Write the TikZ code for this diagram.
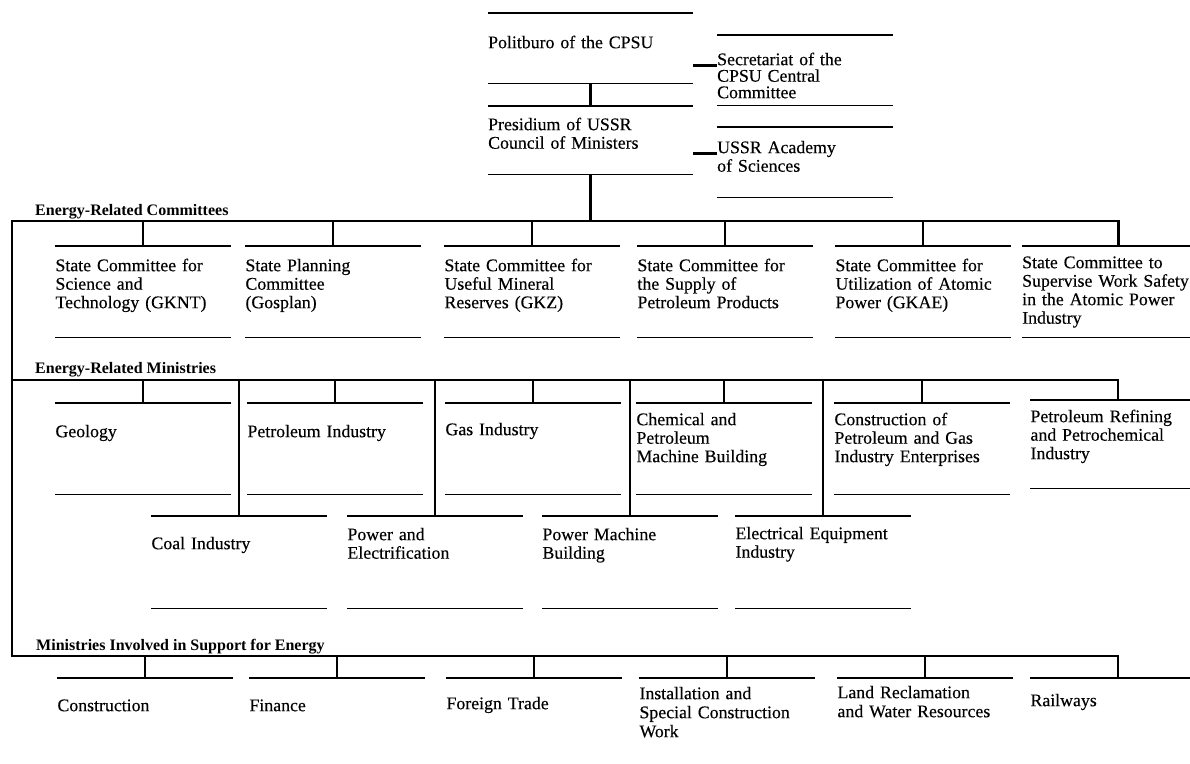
\documentclass[tikz,border=0pt]{standalone}
\usepackage{fontspec}
\setmainfont{Liberation Serif}[UprightFeatures={FakeBold=0.3}]
\usetikzlibrary{calc}

\tikzset{
  rule/.style={line width=1.3pt},
  link/.style={line width=2.6pt},
  tier/.style={anchor=base west, inner sep=0pt, font=\bfseries\fontsize{16}{18}\selectfont},
  unit/.style 2 args={anchor=north, text width=175pt, align=left,
    inner xsep=0pt, inner ysep=0pt, text height=#1, text depth=#2,
    font=\fontsize{17.8}{18.5}\selectfont,
    append after command={(\tikzlastnode.north west) edge[rule] (\tikzlastnode.north east)
      (\tikzlastnode.south west) edge[rule] (\tikzlastnode.south east)}},
  openunit/.style={anchor=north, text width=175pt, align=left,
    inner xsep=0pt, inner ysep=0pt, text height=#1, text depth=40pt,
    font=\fontsize{17.8}{19}\selectfont,
    append after command={(\tikzlastnode.north west) edge[rule] (\tikzlastnode.north east)}}
}

\begin{document}
\begin{tikzpicture}[x=1pt, y=-1pt]
\useasboundingbox (0,0) rectangle (1190,763);

% party and government
\node[unit={35pt}{35pt}, text width=205pt, anchor=north west] (pb) at (488,13) {Politburo of the CPSU};
\node[unit={24pt}{44pt}, text width=205pt, anchor=north west] (pr) at (488,106) {Presidium of USSR\\Council of Ministers};
\node[unit={30pt}{40pt}, text width=176pt, anchor=north west, font=\fontsize{17.8}{16.5}\selectfont] (sc) at (717,35) {Secretariat of the\\CPSU Central\\Committee};
\node[unit={26pt}{44pt}, text width=176pt, anchor=north west] (ac) at (717,127) {USSR Academy\\of Sciences};
\draw[link] (pb.east |- sc.base) -- (sc.base west);
\draw[link] (pb.east |- ac.base) -- (ac.base west);
\draw[link] (pb.south) -- (pr.north);

% section labels
\node[tier] (lc) at (35,215) {Energy-Related Committees};
\node[tier] (lm) at (35,373) {Energy-Related Ministries};
\node[tier] (ls) at (36,650) {Ministries Involved in Support for Energy};

% committees
\node[unit={25pt}{66pt}] (c1) at (143,246) {State Committee for\\Science and\\Technology (GKNT)};
\node[unit={25pt}{66pt}] (c2) at (333,246) {State Planning\\Committee\\(Gosplan)};
\node[unit={25pt}{66pt}] (c3) at (532,246) {State Committee for\\Useful Mineral\\Reserves (GKZ)};
\node[unit={25pt}{66pt}] (c4) at (725,246) {State Committee for\\the Supply of\\Petroleum Products};
\node[unit={25pt}{66pt}] (c5) at (923,246) {State Committee for\\Utilization of Atomic\\Power (GKAE)};
\node[unit={22pt}{69pt}, text width=192pt, anchor=north west] (c6) at (1022,246) {State Committee to\\Supervise Work Safety\\in the Atomic Power\\Industry};

% ministries
\node[unit={34pt}{57pt}] (m1) at (143,403) {Geology};
\node[unit={34pt}{57pt}] (m2) at (335,403) {Petroleum Industry};
\node[unit={32pt}{59pt}] (m3) at (533,403) {Gas Industry};
\node[unit={22pt}{69pt}] (m4) at (724,403) {Chemical and\\Petroleum\\Machine Building};
\node[unit={22pt}{69pt}] (m5) at (922,403) {Construction of\\Petroleum and Gas\\Industry Enterprises};
\node[unit={22pt}{66pt}] (m6) at (1118,400) {Petroleum Refining\\and Petrochemical\\Industry};
\node[unit={33pt}{59pt}] (m7) at (239,516) {Coal Industry};
\node[unit={24pt}{68pt}] (m8) at (435,516) {Power and\\Electrification};
\node[unit={24pt}{68pt}] (m9) at (630,516) {Power Machine\\Building};
\node[unit={23pt}{69pt}] (m10) at (823,516) {Electrical Equipment\\Industry};

% support
\node[openunit=33pt] (s1) at (145,678) {Construction};
\node[openunit=33pt] (s2) at (337,678) {Finance};
\node[openunit=31pt] (s3) at (534,678) {Foreign Trade};
\node[openunit=21pt] (s4) at (727,678) {Installation and\\Special Construction\\Work};
\node[openunit=20pt] (s5) at (925,678) {Land Reclamation\\and Water Resources};
\node[openunit=28pt] (s6) at (1118,678) {Railways};

% bars
\coordinate (cbar) at (12,221);
\coordinate (mbar) at (12,380);
\coordinate (sbar) at (12,656);
\draw[link] (pr.south) -- (pr.south |- cbar);
\draw[link] (c6.north) -- (c6.north |- cbar) -- (cbar) -- (sbar) -- (s6.north |- sbar) -- (s6.north);
\draw[link] (mbar) -- (m6.north |- mbar) -- (m6.north);
\draw[link] (c1.north) -- (c1.north |- cbar) (c2.north) -- (c2.north |- cbar)
  (c3.north) -- (c3.north |- cbar) (c4.north) -- (c4.north |- cbar)
  (c5.north) -- (c5.north |- cbar);
\draw[link] (m1.north) -- (m1.north |- mbar) (m2.north) -- (m2.north |- mbar)
  (m3.north) -- (m3.north |- mbar) (m4.north) -- (m4.north |- mbar)
  (m5.north) -- (m5.north |- mbar);
\draw[link] (m7.north) -- (m7.north |- mbar) (m8.north) -- (m8.north |- mbar)
  (m9.north) -- (m9.north |- mbar) (m10.north) -- (m10.north |- mbar);
\draw[link] (s1.north) -- (s1.north |- sbar) (s2.north) -- (s2.north |- sbar)
  (s3.north) -- (s3.north |- sbar) (s4.north) -- (s4.north |- sbar)
  (s5.north) -- (s5.north |- sbar);
\end{tikzpicture}
\end{document}
